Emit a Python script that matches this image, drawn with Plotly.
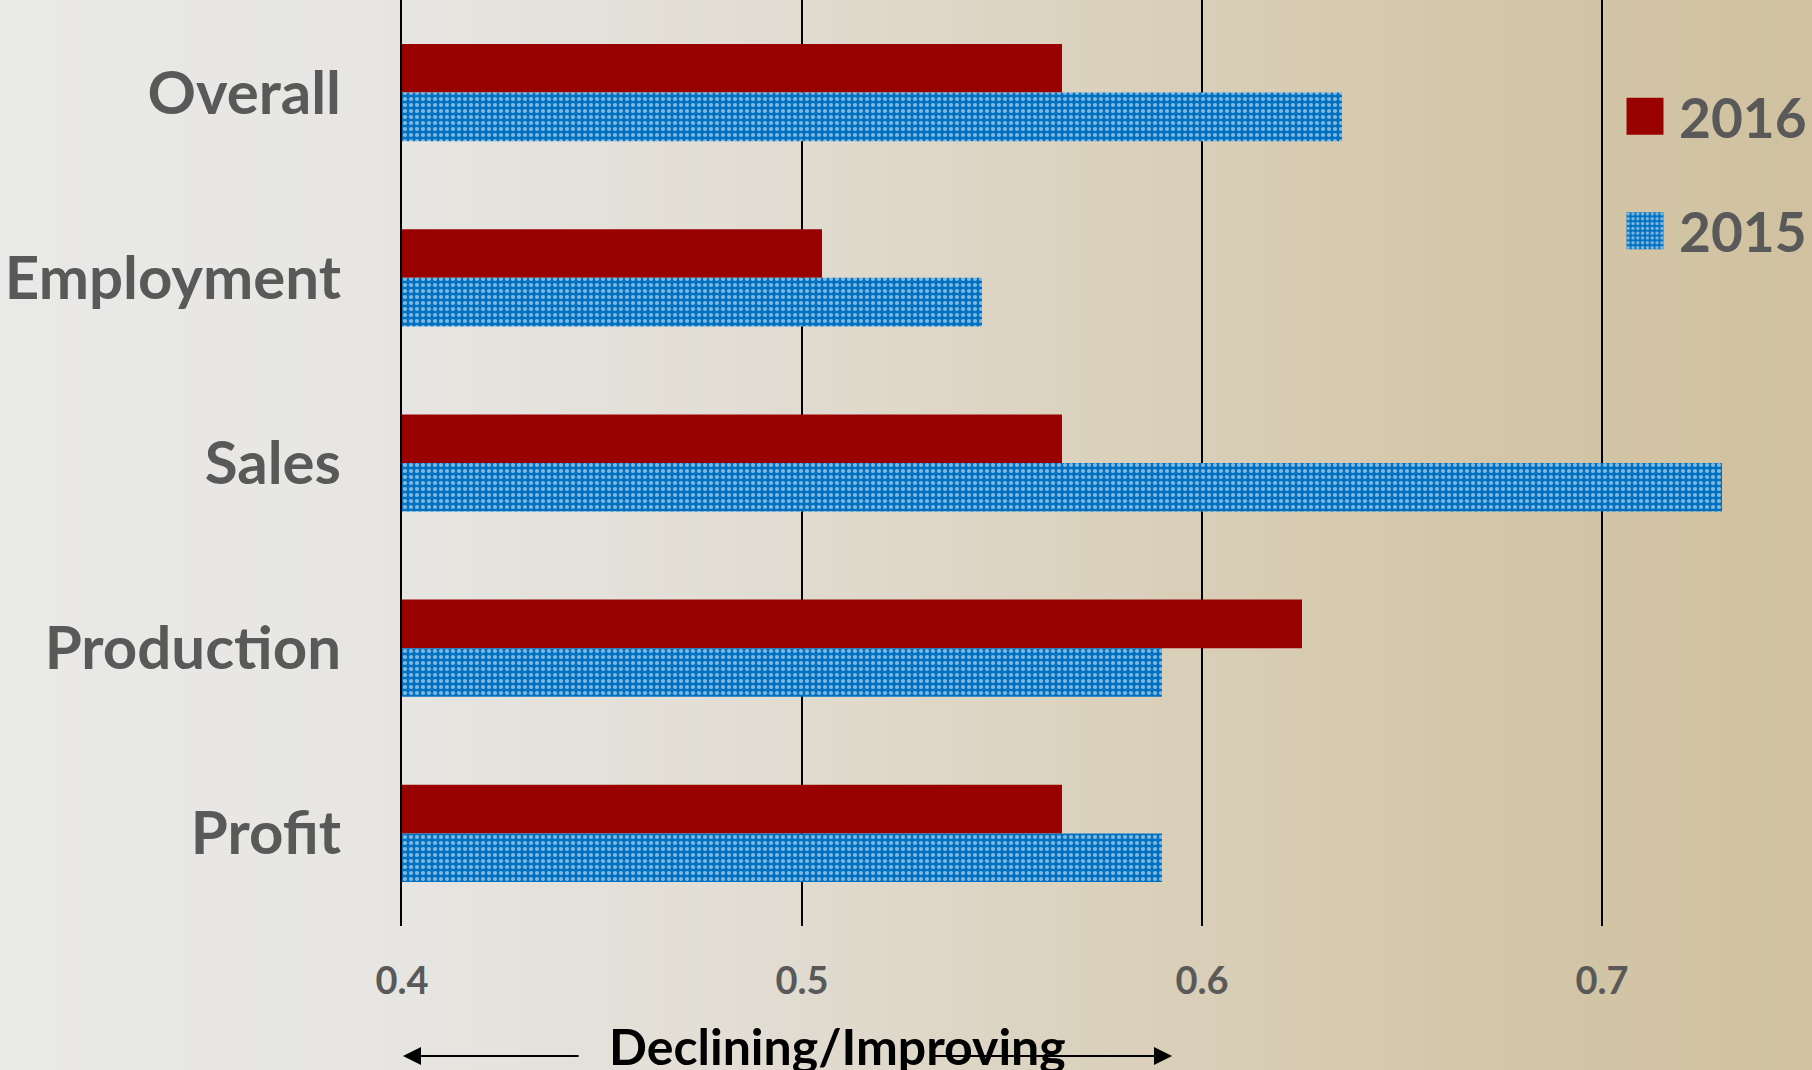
import base64, struct, zlib
import plotly.graph_objects as go

# ---- data ----
categories = ["Overall", "Employment", "Sales", "Production", "Profit"]
values_2016 = [0.565, 0.505, 0.565, 0.625, 0.565]
values_2015 = [0.635, 0.545, 0.73, 0.59, 0.59]
tick_vals = [0.4, 0.5, 0.6, 0.7]
tick_text = ["0.4", "0.5", "0.6", "0.7"]

W, H = 1812, 1070
ML, MR, MT, MB = 402, 10, 0, 144
PW, PH = W - ML - MR, H - MT - MB


def gradient_png(stops, width=600):
    row = bytearray([0])
    for i in range(width):
        t = i / (width - 1)
        for k in range(len(stops) - 1):
            t0, c0 = stops[k]
            t1, c1 = stops[k + 1]
            if t0 <= t <= t1:
                f = (t - t0) / (t1 - t0)
                row += bytes(int(round(c0[j] + (c1[j] - c0[j]) * f)) for j in range(3))
                break
    raw = bytes(row)

    def chunk(tag, data):
        c = struct.pack(">I", len(data)) + tag + data
        return c + struct.pack(">I", zlib.crc32(tag + data) & 0xffffffff)

    png = b"\x89PNG\r\n\x1a\n"
    png += chunk(b"IHDR", struct.pack(">IIBBBBB", width, 1, 8, 2, 0, 0, 0))
    png += chunk(b"IDAT", zlib.compress(raw))
    png += chunk(b"IEND", b"")
    return "data:image/png;base64," + base64.b64encode(png).decode()


bg = gradient_png([
    (0.0, (233, 233, 231)),
    (0.2, (231, 230, 227)),
    (0.4, (226, 222, 213)),
    (0.6, (219, 210, 190)),
    (0.8, (212, 199, 170)),
    (1.0, (208, 194, 160)),
])

FONT = "Lato, 'Open Sans', sans-serif"
GREY = "#595959"

fig = go.Figure()
fig.add_trace(go.Bar(
    y=categories, x=values_2016, name="2016", orientation="h",
    marker=dict(color="#990000", line=dict(width=0)),
    legendgroup="a",
))
fig.add_trace(go.Bar(
    y=categories, x=values_2015, name="2015", orientation="h",
    marker=dict(color="#0070C0", line=dict(width=0),
                pattern=dict(shape=".", fgcolor="white", bgcolor="#0070C0",
                             size=6, solidity=0.38)),
    legendgroup="b",
))

LEG_LEFT = 1611
fig.update_layout(
    width=W, height=H,
    margin=dict(l=ML, r=MR, t=MT, b=MB, pad=0),
    paper_bgcolor="rgba(0,0,0,0)",
    plot_bgcolor="rgba(0,0,0,0)",
    barmode="group", bargap=0.475, bargroupgap=0,
    font=dict(family=FONT, color=GREY),
    showlegend=True,
    legend=dict(
        x=(LEG_LEFT - ML) / PW, xanchor="left",
        y=1 - 74 / PH, yanchor="top",
        font=dict(family=FONT, size=55, color=GREY, weight="bold"),
        bgcolor="rgba(0,0,0,0)",
        traceorder="grouped", tracegroupgap=40,
        itemwidth=58,
    ),
    xaxis=dict(
        range=[0.4, 0.75],
        tickvals=tick_vals, ticktext=tick_text,
        showgrid=True, gridcolor="black", gridwidth=1.5,
        zeroline=False, showline=False,
        ticks="outside", ticklen=0, tickcolor="rgba(0,0,0,0)",
        ticklabelstandoff=21,
        tickfont=dict(family=FONT, size=38, color=GREY, weight="bold"),
        fixedrange=True,
    ),
    yaxis=dict(
        autorange="reversed",
        showgrid=False, zeroline=False,
        showline=True, linecolor="black", linewidth=2,
        ticks="outside", ticklen=0, tickcolor="rgba(0,0,0,0)",
        ticklabelstandoff=47,
        tickfont=dict(family=FONT, size=60, color=GREY, weight="bold"),
        fixedrange=True,
    ),
    images=[dict(
        source=bg, xref="paper", yref="paper",
        x=-ML / PW, y=1 + MT / PH, sizex=W / PW, sizey=H / PH,
        xanchor="left", yanchor="top", sizing="stretch", layer="below",
    )],
)

# axis title with direction arrows
fig.add_annotation(
    text="Declining/Improving", xref="paper", yref="paper",
    x=(837 - ML) / PW, y=(PH - (1046 - MT)) / PH,
    xanchor="center", yanchor="middle", showarrow=False,
    font=dict(family=FONT, size=50, color="black", weight="bold"),
)
arrow_y = (PH - (1056 - MT)) / PH
fig.add_annotation(
    x=(403 - ML) / PW, y=arrow_y, xref="paper", yref="paper",
    ax=580 - 403, ay=0, showarrow=True, arrowhead=2, arrowsize=1.8,
    arrowwidth=2, arrowcolor="black", text="",
)
fig.add_annotation(
    x=(1172 - ML) / PW, y=arrow_y, xref="paper", yref="paper",
    ax=931 - 1172, ay=0, showarrow=True, arrowhead=2, arrowsize=1.8,
    arrowwidth=2, arrowcolor="black", text="",
)

post = """
document.body.style.margin = '0';
document.body.style.overflow = 'hidden';
var gd = document.getElementById('{plot_id}');
function bigLegendSymbols() {
  gd.querySelectorAll('.legend .traces .legendpoints path').forEach(function (p) {
    p.setAttribute('d', 'M18.5,18.5H-18.5V-18.5H18.5Z');
  });
}
bigLegendSymbols();
gd.on('plotly_afterplot', bigLegendSymbols);
"""

fig.write_html("out.html", post_script=post, config={"displayModeBar": False})
